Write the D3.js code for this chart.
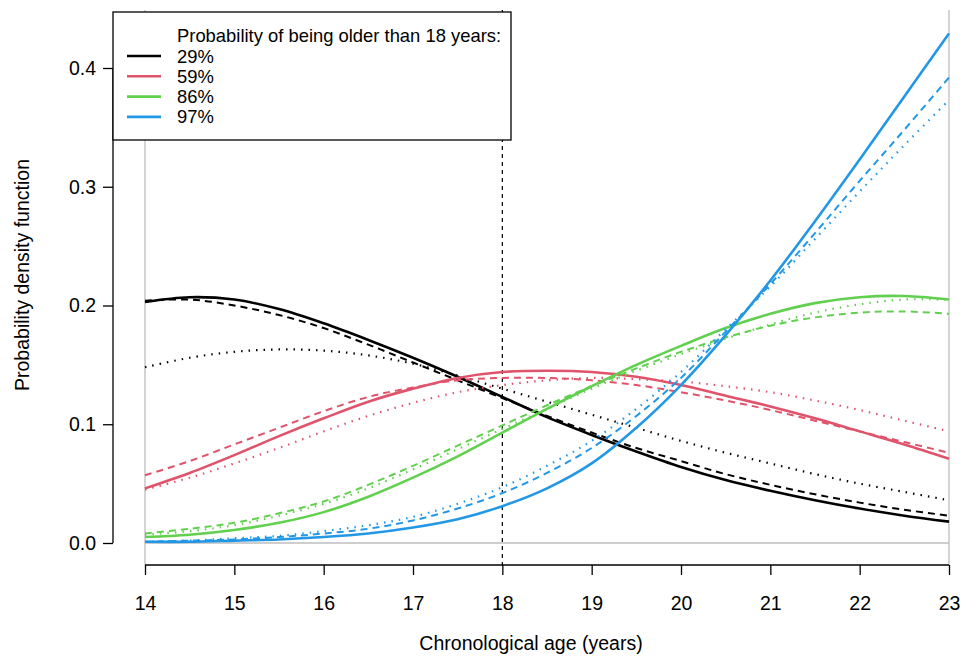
<!DOCTYPE html>
<html>
<head>
<meta charset="utf-8">
<script src="https://cdn.jsdelivr.net/npm/d3@7"></script>
<style>
html,body{margin:0;padding:0;background:#fff;}
svg{display:block;font-family:"Liberation Sans",Arial,sans-serif;}
</style>
</head>
<body>
<svg id="chart" width="961" height="657"></svg>
<script>
// ---- data ----
const ages = [14,14.5,15,15.5,16,16.5,17,17.5,18,18.5,19,19.5,20,20.5,21,21.5,22,22.5,23];
const xTicks = [14,15,16,17,18,19,20,21,22,23];
const yTicks = [0,0.1,0.2,0.3,0.4];
const legendTitle = "Probability of being older than 18 years:";
const groups = ["29%","59%","86%","97%"];
const colors = ["#000000","#DF536B","#61D04F","#2297E6"];

const p29_solid  = [0.203,0.207,0.205,0.197,0.185,0.171,0.156,0.140,0.123,0.106,0.091,0.077,0.064,0.053,0.044,0.036,0.029,0.023,0.018];
const p29_dashed = [0.204,0.205,0.200,0.192,0.181,0.167,0.152,0.137,0.122,0.107,0.093,0.080,0.069,0.058,0.049,0.041,0.034,0.028,0.023];
const p29_dotted = [0.148,0.156,0.161,0.163,0.162,0.158,0.151,0.141,0.130,0.119,0.108,0.097,0.086,0.076,0.067,0.058,0.050,0.043,0.036];

const p59_solid  = [0.046,0.059,0.074,0.090,0.105,0.119,0.130,0.139,0.144,0.145,0.144,0.140,0.133,0.124,0.115,0.105,0.094,0.083,0.071];
const p59_dashed = [0.057,0.069,0.083,0.097,0.111,0.123,0.131,0.137,0.139,0.139,0.137,0.133,0.127,0.120,0.112,0.103,0.094,0.085,0.076];
const p59_dotted = [0.045,0.055,0.067,0.080,0.094,0.107,0.118,0.127,0.133,0.137,0.139,0.138,0.136,0.132,0.127,0.120,0.112,0.103,0.094];

const p86_solid  = [0.005,0.007,0.011,0.017,0.026,0.039,0.055,0.073,0.093,0.113,0.132,0.150,0.166,0.181,0.193,0.202,0.207,0.208,0.205];
const p86_dashed = [0.008,0.012,0.017,0.025,0.035,0.049,0.065,0.082,0.099,0.116,0.132,0.147,0.161,0.173,0.183,0.190,0.194,0.195,0.193];
const p86_dotted = [0.007,0.010,0.015,0.023,0.033,0.046,0.062,0.079,0.096,0.113,0.130,0.145,0.159,0.172,0.184,0.194,0.201,0.205,0.205];

const p97_solid  = [0.001,0.001,0.002,0.003,0.005,0.008,0.013,0.020,0.031,0.046,0.067,0.097,0.133,0.175,0.221,0.271,0.323,0.376,0.429];
const p97_dashed = [0.001,0.002,0.003,0.005,0.008,0.012,0.019,0.029,0.042,0.059,0.080,0.107,0.139,0.178,0.218,0.261,0.305,0.348,0.392];
const p97_dotted = [0.001,0.002,0.004,0.006,0.010,0.015,0.022,0.033,0.047,0.065,0.086,0.113,0.144,0.180,0.216,0.256,0.296,0.335,0.373];

const series = [
  {g:0, type:"dotted", v:p29_dotted},{g:0, type:"dashed", v:p29_dashed},{g:0, type:"solid", v:p29_solid},
  {g:1, type:"dotted", v:p59_dotted},{g:1, type:"dashed", v:p59_dashed},{g:1, type:"solid", v:p59_solid},
  {g:2, type:"dotted", v:p86_dotted},{g:2, type:"dashed", v:p86_dashed},{g:2, type:"solid", v:p86_solid},
  {g:3, type:"dotted", v:p97_dotted},{g:3, type:"dashed", v:p97_dashed},{g:3, type:"solid", v:p97_solid}
];

// ---- layout ----
const svg = d3.select("#chart");
const x = d3.scaleLinear().domain([14,23]).range([145,949]);
const y = d3.scaleLinear().domain([0,0.4]).range([543,68]);
const plotTop = 10, plotBottom = 565, plotLeft = 113;
const gray = "#BEBEBE";

// reference lines
svg.append("line").attr("x1",x(14)).attr("x2",x(23)).attr("y1",y(0)).attr("y2",y(0))
  .attr("stroke",gray).attr("stroke-width",1.3);
[14,23].forEach(v=>{
  svg.append("line").attr("x1",x(v)).attr("x2",x(v)).attr("y1",plotTop).attr("y2",plotBottom)
    .attr("stroke",gray).attr("stroke-width",1.3);
});
svg.append("line").attr("x1",x(18)).attr("x2",x(18)).attr("y1",plotTop).attr("y2",plotBottom)
  .attr("stroke","#000").attr("stroke-width",1.2).attr("stroke-dasharray","4,4");

// curves
const line = d3.line().x((d,i)=>x(ages[i])).y(d=>y(d)).curve(d3.curveCatmullRom.alpha(0.5));
const styles = {
  solid:{w:2.6, dash:null},
  dashed:{w:2.0, dash:"7,5"},
  dotted:{w:2.2, dash:"1.5,6"}
};
svg.append("g").selectAll("path").data(series).join("path")
  .attr("d",d=>line(d.v))
  .attr("fill","none")
  .attr("stroke",d=>colors[d.g])
  .attr("stroke-width",d=>styles[d.type].w)
  .attr("stroke-dasharray",d=>styles[d.type].dash);

// axes
const xAxis = svg.append("g").attr("transform",`translate(0,${plotBottom})`)
  .call(d3.axisBottom(x).tickValues(xTicks).tickFormat(d3.format("d")).tickSize(10).tickPadding(21));
const yAxis = svg.append("g").attr("transform",`translate(${plotLeft},0)`)
  .call(d3.axisLeft(y).tickValues(yTicks).tickFormat(d3.format(".1f")).tickSize(10).tickPadding(7));
[xAxis,yAxis].forEach(a=>{
  a.selectAll("path.domain").attr("stroke","#000").attr("stroke-width",1.3);
  a.selectAll(".tick line").attr("stroke","#000").attr("stroke-width",1.3);
  a.selectAll(".tick text").attr("fill","#000").attr("font-size",19.5).attr("font-family","Liberation Sans, Arial, sans-serif");
});
xAxis.select("path.domain").attr("d",`M${x(14)},0H${x(23)}`);
yAxis.select("path.domain").attr("d",`M0,${y(0)}V${y(0.4)}`);

// axis titles
svg.append("text").attr("x",531).attr("y",650).attr("text-anchor","middle")
  .attr("font-size",19.5).text("Chronological age (years)");
svg.append("text").attr("transform","translate(29,275) rotate(-90)").attr("text-anchor","middle")
  .attr("font-size",19.5).text("Probability density function");

// legend
const lg = svg.append("g");
lg.append("rect").attr("x",113).attr("y",12).attr("width",398).attr("height",128)
  .attr("fill","#fff").attr("stroke","#000").attr("stroke-width",1.3);
lg.append("text").attr("x",177).attr("y",42).attr("font-size",18.4).text(legendTitle);
groups.forEach((g,i)=>{
  const cy = 56 + i*20.3;
  lg.append("line").attr("x1",127).attr("x2",161).attr("y1",cy).attr("y2",cy)
    .attr("stroke",colors[i]).attr("stroke-width",2.6);
  lg.append("text").attr("x",177).attr("y",cy+6.5).attr("font-size",18.4).text(g);
});
</script>
</body>
</html>
